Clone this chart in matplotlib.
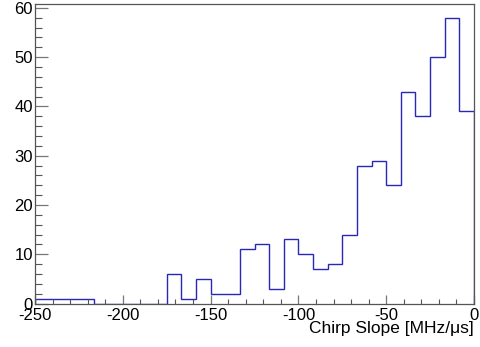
import matplotlib
matplotlib.use('Agg')
import matplotlib.pyplot as plt
from matplotlib.ticker import MultipleLocator
import numpy as np

# ===== DATA =====
# 30 bins from -250 to 0
x_min, x_max, n_bins = -250, 0, 30
counts = [1, 1, 1, 1, 0, 0, 0, 0, 0,
          6, 1, 5, 2, 2, 11, 12, 3, 13, 10, 7, 8,
          14, 28, 29, 24, 43, 38, 50, 58, 39]
x_label = 'Chirp Slope [MHz/\u03bcs]'

edges = np.linspace(x_min, x_max, n_bins + 1)

# ===== PLOTTING =====
plt.rcParams['font.family'] = ['Liberation Sans', 'DejaVu Sans']
fig = plt.figure(figsize=(4.81, 3.47), dpi=100)
ax = fig.add_axes([35 / 481, 1 - 303.5 / 347, 439 / 481, 300 / 347])

ax.stairs(counts, edges, color='#2828b8', linewidth=1.0)

ax.set_xlim(x_min, x_max)
ax.set_ylim(0, 1.05 * max(counts))

for s in ax.spines.values():
    s.set_color('#555555')
    s.set_linewidth(0.9)

ax.xaxis.set_major_locator(MultipleLocator(50))
ax.xaxis.set_minor_locator(MultipleLocator(10))
ax.yaxis.set_major_locator(MultipleLocator(10))
ax.yaxis.set_minor_locator(MultipleLocator(2))

ax.tick_params(axis='x', which='major', direction='in', length=6.5, width=0.9,
               color='#777777', labelsize=12, pad=3, top=False)
ax.tick_params(axis='x', which='minor', direction='in', length=3.6, width=0.8,
               color='#555555', top=False)
ax.tick_params(axis='y', which='major', direction='in', length=9.4, width=0.9,
               color='#777777', labelsize=12, pad=1.5, right=False)
ax.tick_params(axis='y', which='minor', direction='in', length=5, width=0.8,
               color='#555555', right=False)

ax.set_xticks(np.arange(-250, 1, 50))
ax.set_xticklabels([str(v) for v in range(-250, 1, 50)])

ax.set_xlabel(x_label, fontsize=12.5, loc='right', labelpad=-1)

fig.savefig('out.png', dpi=100)
